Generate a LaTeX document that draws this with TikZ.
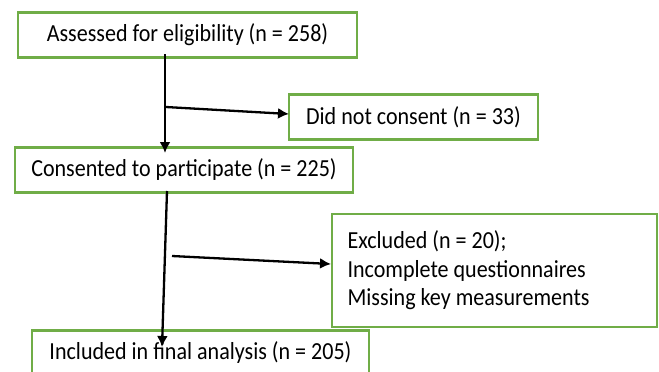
\documentclass[tikz,border=0pt]{standalone}
\usepackage{fontspec}
\setmainfont{Carlito}[FakeStretch=0.9]
\usetikzlibrary{arrows.meta}
\definecolor{boxgreen}{RGB}{112,173,71}
\begin{document}
\begin{tikzpicture}[x=1bp,y=-1bp,
		flowbox/.style={draw=boxgreen, line width=2.6bp, inner sep=0pt, font=\fontsize{24.5bp}{28.5bp}\selectfont},
		flowarrow/.style={line width=2.3bp, -{Latex[length=11bp,width=11bp]}}]
		\useasboundingbox (0,0) rectangle (659,371);
		% stages of the sample
		\node[flowbox, minimum width=339bp, minimum height=45bp] (assessed) at (187.5,35) {Assessed for eligibility (n = 258)};
		\node[flowbox, minimum width=249bp, minimum height=45bp] (noconsent) at (413.5,117) {Did not consent (n = 33)};
		\node[flowbox, minimum width=338bp, minimum height=45bp] (consented) at (184,170) {Consented to participate (n = 225)};
		\node[flowbox, minimum width=325bp, minimum height=113bp, text width=294bp, align=left, inner xsep=15.5bp,
			execute at begin node={\spaceskip=0pt\relax}] (excluded) at (494.5,270.5) {Excluded (n = 20);\\Incomplete questionnaires\\Missing key measurements};
		\node[flowbox, minimum width=337bp, minimum height=45bp] (included) at (200.5,353) {Included in final analysis (n = 205)};
		
		\coordinate (down1) at (165,54);
		\coordinate (tip1) at (165,153);
		\coordinate (side1) at (166,107);
		\coordinate (sidetip1) at (289,114);
		\coordinate (down2) at (167,191);
		\coordinate (tip2) at (162,347);
		\coordinate (side2) at (172,256);
		\coordinate (sidetip2) at (331,264);
		
		\draw[flowarrow] (down1) -- (tip1);
		\draw[flowarrow] (side1) -- (sidetip1);
		\draw[flowarrow] (down2) -- (tip2);
		\draw[flowarrow] (side2) -- (sidetip2);
		\end{tikzpicture}
\end{document}
